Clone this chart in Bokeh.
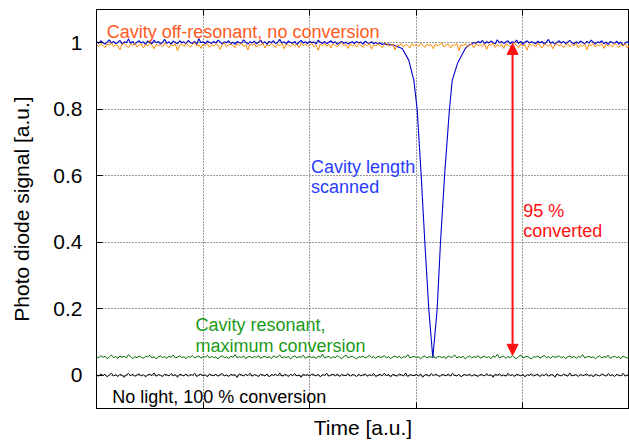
import numpy as np
from bokeh.plotting import figure
from bokeh.models import Label, Arrow, NormalHead, FixedTicker, LinearAxis, Range1d
from bokeh.embed import file_html
from bokeh.resources import INLINE

FONT = "Liberation Sans"

# ---------------- data ----------------
x_ticks = [0, 1, 2, 3, 4, 5]
y_ticks = [0, 0.2, 0.4, 0.6, 0.8, 1.0]
y_tick_labels = ["0", "0.2", "0.4", "0.6", "0.8", "1"]

# off-resonant trace (orange), 251 samples over the full time span
orange_vals = [
    0.995, 0.989, 0.997, 0.992, 0.985, 0.996, 0.993, 1.000, 0.988, 0.994, 0.990, 0.979, 0.995, 0.998, 0.991, 0.986, 0.996, 0.992, 0.999, 0.987, 0.993, 0.997, 0.984, 0.995, 0.990,
    0.998, 0.993, 0.982, 0.996, 0.991, 0.994, 0.988, 0.999, 0.992, 0.985, 0.995, 0.990, 0.997, 0.976, 0.993, 0.996, 0.989, 0.998, 0.992, 0.987, 0.995, 1.001, 0.990, 0.994, 0.983,
    0.996, 0.991, 0.998, 0.986, 0.994, 0.990, 0.997, 0.993, 0.980, 0.995, 0.999, 0.988, 0.993, 0.996, 0.991, 0.985, 0.997, 0.992, 0.999, 0.989, 0.994, 0.978, 0.996, 0.991, 0.998,
    0.987, 0.995, 0.992, 1.000, 0.984, 0.994, 0.990, 0.997, 0.993, 0.986, 0.996, 0.991, 0.999, 0.982, 0.995, 0.993, 0.988, 0.997, 0.991, 0.995, 0.985, 0.998, 0.992, 0.996, 0.989,
    0.994, 0.999, 0.987, 0.993, 0.977, 0.996, 0.991, 0.998, 0.990, 0.995, 0.984, 0.997, 0.992, 0.988, 0.996, 1.001, 0.991, 0.994, 0.983, 0.997, 0.990, 0.995, 0.987, 0.999, 0.993,
    0.986, 0.996, 0.991, 0.998, 0.981, 0.994, 0.990, 0.997, 0.992, 0.985, 0.995, 0.999, 0.989, 0.993, 0.996, 0.979, 0.994, 0.991, 0.998, 0.987, 0.995, 0.992, 0.984, 0.997, 0.990,
    0.995, 0.988, 0.999, 0.993, 0.986, 0.996, 0.991, 0.994, 0.982, 0.997, 0.990, 0.995, 1.000, 0.987, 0.993, 0.996, 0.984, 0.994, 0.991, 0.998, 0.976, 0.995, 0.990, 0.997, 0.988,
    0.993, 0.996, 0.985, 0.998, 0.991, 0.994, 0.989, 0.997, 0.980, 0.995, 0.992, 0.999, 0.986, 0.994, 0.990, 0.996, 0.983, 0.997, 0.993, 0.988, 0.995, 1.000, 0.991, 0.985, 0.996,
    0.990, 0.994, 0.978, 0.997, 0.992, 0.995, 0.987, 0.999, 0.991, 0.984, 0.996, 0.993, 0.989, 0.997, 0.982, 0.994, 0.998, 0.990, 0.995, 0.986, 0.993, 0.997, 0.988, 0.995, 0.991,
    0.999, 0.985, 0.994, 0.990, 0.996, 0.979, 0.995, 0.992, 0.998, 0.987, 0.994, 0.991, 0.997, 0.983, 0.996, 0.990, 0.994, 0.988, 0.999, 0.992, 0.986, 0.995, 0.990, 0.997, 0.984,
    0.994,
]

# cavity-length-scanned trace (blue): flat part before the dip, the dip, flat part after
blue_left_vals = [
    1.003, 0.998, 1.006, 1.000, 0.996, 1.002, 1.009, 0.999, 1.004, 0.997, 1.001, 1.007, 0.996, 1.003, 1.000, 1.011, 0.998, 1.004, 0.995, 1.002,
    1.006, 0.999, 1.003, 0.994, 1.005, 1.001, 0.997, 1.008, 1.000, 1.004, 0.996, 1.002, 1.010, 0.998, 1.003, 0.995, 1.005, 1.001, 0.997, 1.006,
    1.000, 1.003, 0.996, 1.007, 1.001, 0.998, 1.004, 0.995, 1.012, 1.000, 1.003, 0.997, 1.005, 1.001, 0.998, 1.004, 0.999, 1.008, 1.002, 0.996,
    1.003, 1.000, 1.006, 0.997, 1.002, 0.995, 1.004, 1.000, 0.998, 1.009, 1.001, 0.996, 1.003, 0.999, 1.005, 0.997, 1.002, 1.007, 0.998, 1.003,
    0.995, 1.004, 1.000, 1.006, 0.997, 1.002, 1.010, 0.999, 1.003, 0.996, 1.005, 1.001, 0.998, 1.004, 0.994, 1.002, 1.007, 0.999, 1.003, 0.997,
    1.005, 1.000, 1.003, 0.996, 1.008, 1.001, 0.998, 1.004, 0.997, 1.002, 1.006, 0.999, 1.003, 0.995, 1.001, 1.004, 0.998, 1.002, 0.996, 1.000,
    1.003, 0.997, 1.004, 0.999, 1.002, 0.996, 1.005, 1.000, 0.998, 1.003, 0.997, 1.001, 0.996, 0.999, 0.995, 0.998, 0.994, 0.996, 0.993, 0.994,
]
dip_t = [2.80, 2.868, 2.930, 2.977, 3.008, 3.046, 3.080, 3.117, 3.155, 3.196, 3.227, 3.265, 3.311, 3.337, 3.389, 3.462, 3.50]
dip_vals = [0.991, 0.983, 0.947, 0.887, 0.80, 0.60, 0.40, 0.20, 0.052, 0.20, 0.40, 0.60, 0.80, 0.887, 0.94, 0.984, 0.994]
blue_right_vals = [
    0.996, 1.001, 0.998, 1.004, 1.000, 1.007, 0.997, 1.003, 0.999, 1.005, 1.001, 0.996, 1.009, 1.000, 1.004, 0.998, 1.002, 1.006, 0.997, 1.003, 1.000, 1.008, 0.998, 1.004, 0.995,
    1.002, 1.006, 0.999, 1.003, 1.001, 0.997, 1.005, 1.000, 1.004, 0.996, 1.002, 1.010, 0.998, 1.003, 0.995, 1.001, 1.006, 0.999, 1.004, 0.997, 1.002, 1.007, 1.000, 0.996, 1.003,
    0.998, 1.005, 1.001, 0.997, 1.004, 0.999, 1.008, 1.002, 0.996, 1.003, 1.000, 1.006, 0.997, 1.002, 0.995, 1.004, 1.000, 0.998, 1.005, 0.996, 1.002, 0.991, 0.999, 1.003, 0.997,
]

# resonant, maximum conversion trace (green)
green_vals = [
    0.056, 0.052, 0.059, 0.054, 0.057, 0.050, 0.055, 0.061, 0.053, 0.056, 0.051, 0.058, 0.054, 0.057, 0.052, 0.062, 0.055, 0.050, 0.056, 0.053, 0.058, 0.054, 0.051, 0.057, 0.055,
    0.060, 0.052, 0.056, 0.049, 0.055, 0.058, 0.053, 0.056, 0.051, 0.057, 0.054, 0.061, 0.052, 0.055, 0.058, 0.053, 0.056, 0.050, 0.057, 0.054, 0.059, 0.052, 0.055, 0.058, 0.051,
    0.056, 0.054, 0.060, 0.052, 0.057, 0.053, 0.055, 0.049, 0.056, 0.058, 0.053, 0.055, 0.051, 0.057, 0.054, 0.062, 0.052, 0.056, 0.053, 0.058, 0.050, 0.055, 0.057, 0.052, 0.056,
    0.054, 0.059, 0.051, 0.055, 0.057, 0.053, 0.056, 0.050, 0.058, 0.054, 0.055, 0.061, 0.052, 0.056, 0.053, 0.057, 0.049, 0.055, 0.058, 0.052, 0.056, 0.054, 0.060, 0.051, 0.055,
    0.057, 0.053, 0.056, 0.050, 0.058, 0.054, 0.063, 0.052, 0.055, 0.057, 0.051, 0.056, 0.053, 0.059, 0.054, 0.050, 0.056, 0.061, 0.052, 0.055, 0.057, 0.053, 0.049, 0.056, 0.054,
    0.058, 0.052, 0.055, 0.060, 0.053, 0.056, 0.051, 0.057, 0.054, 0.055, 0.059, 0.052, 0.056, 0.050, 0.055, 0.058, 0.053, 0.057, 0.051, 0.056, 0.054, 0.062, 0.052, 0.055, 0.057,
    0.053, 0.056, 0.049, 0.055, 0.058, 0.052, 0.056, 0.054, 0.060, 0.051, 0.055, 0.057, 0.053, 0.056, 0.050, 0.058, 0.054, 0.055, 0.061, 0.052, 0.056, 0.053, 0.057, 0.049, 0.055,
    0.058, 0.052, 0.056, 0.054, 0.059, 0.051, 0.055, 0.057, 0.053, 0.056, 0.050, 0.058, 0.054, 0.063, 0.052, 0.055, 0.057, 0.051, 0.056, 0.053, 0.059, 0.054, 0.050, 0.056, 0.061,
    0.052, 0.055, 0.057, 0.053, 0.049, 0.056, 0.054, 0.058, 0.052, 0.055, 0.060, 0.053, 0.056, 0.051, 0.057, 0.054, 0.055, 0.059, 0.052, 0.056, 0.050, 0.055, 0.058, 0.053, 0.057,
    0.051, 0.056, 0.054, 0.062, 0.052, 0.055, 0.057, 0.053, 0.056, 0.049, 0.055, 0.058, 0.052, 0.056, 0.054, 0.060, 0.051, 0.055, 0.057, 0.053, 0.056, 0.050, 0.058, 0.054, 0.052,
    0.056,
]

# no light trace (black)
black_vals = [
    0.002, -0.003, 0.004, -0.001, 0.003, -0.005, 0.001, 0.006, -0.002, 0.002, -0.004, 0.003, 0.000, -0.006, 0.002, 0.005, -0.001, 0.003, -0.003, 0.001, 0.004, -0.002, 0.002, -0.005, 0.001,
    0.003, -0.001, 0.007, -0.003, 0.002, 0.000, -0.004, 0.003, 0.001, -0.002, 0.005, -0.001, 0.002, -0.006, 0.003, 0.001, -0.002, 0.004, -0.003, 0.002, 0.000, 0.006, -0.004, 0.001, 0.003,
    -0.002, 0.002, -0.005, 0.004, 0.000, -0.001, 0.003, -0.003, 0.002, 0.005, -0.002, 0.001, -0.004, 0.003, 0.000, 0.002, -0.007, 0.004, 0.001, -0.002, 0.003, -0.001, 0.006, -0.003, 0.002,
    0.000, -0.004, 0.003, 0.001, -0.002, 0.004, -0.005, 0.002, 0.000, 0.003, -0.002, 0.007, -0.003, 0.001, 0.002, -0.004, 0.003, -0.001, 0.005, -0.002, 0.001, -0.006, 0.003, 0.000, 0.002,
    -0.003, 0.004, 0.001, -0.002, 0.003, -0.005, 0.002, 0.000, 0.006, -0.003, 0.001, 0.003, -0.002, 0.004, -0.004, 0.002, 0.000, -0.001, 0.005, -0.003, 0.002, 0.001, -0.004, 0.003, -0.002,
    0.001, 0.004, -0.003, 0.002, -0.001, 0.005, -0.004, 0.000, 0.003, -0.002, 0.006, -0.001, 0.002, -0.005, 0.003, 0.000, -0.003, 0.004, 0.001, -0.002, 0.007, -0.004, 0.002, 0.000, -0.001,
    0.003, -0.002, 0.004, -0.006, 0.001, 0.002, -0.003, 0.005, -0.001, 0.003, 0.000, -0.004, 0.002, 0.001, -0.002, 0.004, -0.003, 0.006, 0.000, -0.002, 0.003, -0.005, 0.001, 0.002, -0.001,
    0.004, -0.003, 0.002, 0.000, -0.004, 0.003, 0.001, -0.002, 0.005, -0.001, 0.002, -0.006, 0.003, 0.000, 0.004, -0.002, 0.001, -0.003, 0.006, -0.001, 0.002, -0.004, 0.003, 0.001, -0.002,
    0.003, -0.005, 0.002, 0.000, 0.004, -0.002, 0.001, 0.003, -0.004, 0.002, -0.001, 0.005, -0.003, 0.001, 0.002, -0.006, 0.004, 0.000, -0.002, 0.003, 0.001, -0.003, 0.007, -0.002, 0.000,
    0.002, -0.004, 0.003, -0.001, 0.001, 0.004, -0.003, 0.002, -0.005, 0.003, 0.000, -0.002, 0.004, 0.001, -0.003, 0.005, -0.001, 0.002, -0.004, 0.003, 0.000, -0.002, 0.006, -0.003, 0.001,
    0.002,
]

arrow_x = 3.903
arrow_top = 0.998
arrow_bottom = 0.060

# sampling positions in time
t_full = np.linspace(0, 5, len(orange_vals))
t_blue_left = np.linspace(0, 2.78, len(blue_left_vals))
t_blue_right = np.linspace(3.52, 5.0, len(blue_right_vals))
blue_t = np.concatenate([t_blue_left, dip_t, t_blue_right])
blue_v = np.concatenate([blue_left_vals, dip_vals, blue_right_vals])

# ---------------- figure ----------------
p = figure(width=629, height=441, output_backend="svg", toolbar_location=None,
           x_range=Range1d(0, 5), y_range=Range1d(-0.1, 1.1),
           min_border_left=96, min_border_right=0, min_border_top=9, min_border_bottom=33)
p.background_fill_color = "white"
p.border_fill_color = "white"
p.outline_line_color = "black"
p.outline_line_width = 1

# axes
p.xaxis.ticker = FixedTicker(ticks=x_ticks)
p.yaxis.ticker = FixedTicker(ticks=y_ticks)
p.yaxis.major_label_overrides = {t: l for t, l in zip(y_ticks, y_tick_labels)}
for ax in [p.xaxis[0], p.yaxis[0]]:
    ax.major_tick_in = 6
    ax.major_tick_out = 0
    ax.minor_tick_in = 0
    ax.minor_tick_out = 0
    ax.axis_line_color = "black"
    ax.major_tick_line_color = "black"
p.xaxis.major_label_text_font_size = "1px"
p.xaxis.major_label_text_color = None
p.xaxis.major_label_standoff = 0
p.xaxis.axis_label = "Time [a.u.]"
p.xaxis.axis_label_text_font = FONT
p.xaxis.axis_label_text_font_size = "21px"
p.xaxis.axis_label_text_font_style = "normal"
p.xaxis.axis_label_text_color = "black"
p.xaxis.axis_label_standoff = 7
p.yaxis.major_label_text_font = FONT
p.yaxis.major_label_text_font_size = "21px"
p.yaxis.major_label_text_color = "black"
p.yaxis.major_label_standoff = 14
p.yaxis.axis_label = "Photo diode signal [a.u.]"
p.yaxis.axis_label_text_font = FONT
p.yaxis.axis_label_text_font_size = "21px"
p.yaxis.axis_label_text_font_style = "normal"
p.yaxis.axis_label_text_color = "black"
p.yaxis.axis_label_standoff = 17

# top axis: inward ticks only
top_ax = LinearAxis(ticker=FixedTicker(ticks=x_ticks), major_tick_in=6, major_tick_out=0,
                    minor_tick_in=0, minor_tick_out=0, major_label_text_font_size="4px",
                    major_label_text_color=None, major_label_standoff=0)
p.add_layout(top_ax, "above")

# grid
p.xgrid.ticker = FixedTicker(ticks=x_ticks)
p.ygrid.ticker = FixedTicker(ticks=y_ticks)
for g in [p.xgrid[0], p.ygrid[0]]:
    g.grid_line_color = "#222222"
    g.grid_line_alpha = 0.9
    g.grid_line_dash = "1 2"
    g.grid_line_width = 1

# traces
p.line(blue_t, blue_v, line_color="#0000cc", line_width=1.1)
p.line(t_full, orange_vals, line_color="#ff8800", line_width=1.0)
p.line(t_full, green_vals, line_color="#006600", line_width=1.0)
p.line(t_full, black_vals, line_color="#000000", line_width=1.0)

# arrow
head_kw = dict(size=11, fill_color="#ff1010", line_color="#ff1010")
p.add_layout(Arrow(start=NormalHead(**head_kw), end=NormalHead(**head_kw),
                   x_start=arrow_x, y_start=arrow_bottom, x_end=arrow_x, y_end=arrow_top,
                   line_color="#ff1010", line_width=2))

# text labels
def lab(x, y, text, color, size="18px", align="left"):
    p.add_layout(Label(x=x, y=y, text=text, text_color=color, text_font=FONT,
                       text_font_size=size, text_baseline="alphabetic", text_align=align))

lab(0.095, 1.033, "Cavity off-resonant, no conversion", "#ff5a1e")
lab(2.013, 0.625, "Cavity length", "#2a3cff")
lab(2.013, 0.567, "scanned", "#2a3cff")
lab(4.003, 0.495, "95 %", "#ff1010")
lab(4.003, 0.435, "converted", "#ff1010")
lab(0.929, 0.151, "Cavity resonant,", "#1a9a1a")
lab(0.929, 0.089, "maximum conversion", "#1a9a1a")
lab(0.147, -0.065, "No light, 100 % conversion", "black")

open("out.html", "w").write(file_html(p, INLINE))
